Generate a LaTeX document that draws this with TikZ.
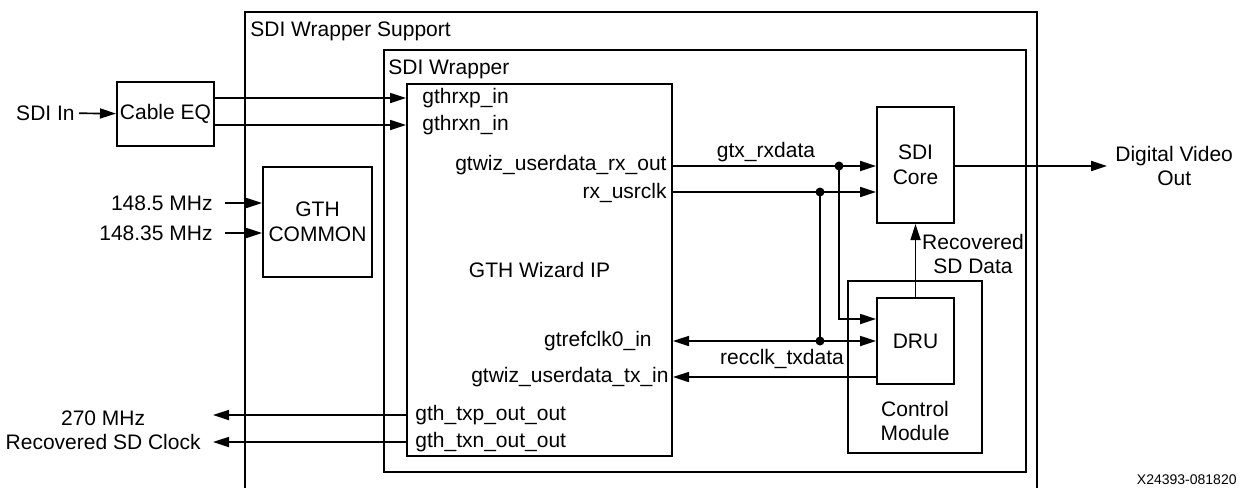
\documentclass[tikz,border=0pt]{standalone}
\usepackage{fontspec}
\setmainfont{Liberation Sans}
\usetikzlibrary{arrows.meta,positioning}

\begin{document}
\begin{tikzpicture}[
  x=0.5pt, y=-0.5pt,
  block/.style={draw, line width=1pt, inner sep=0pt, align=center,
    font=\fontsize{10.5}{12.5}\selectfont},
  port/.style={inner sep=2pt, align=center, font=\fontsize{10.5}{12}\selectfont},
  wire/.style={line width=0.85pt},
  dot/.style={circle, fill, inner sep=0pt, minimum size=4.5pt},
  >={Triangle[length=8pt,width=5pt]}
]
  \useasboundingbox (0,0) rectangle (1251,487);

  \node[block, minimum width=396pt, minimum height=244pt] (support) at (641,256) {};
  \node[port, anchor=west] (supportlbl) at (246,31) {SDI Wrapper Support};
  \node[block, minimum width=321pt, minimum height=211pt] (wrapper) at (705,261) {};
  \node[port, anchor=west] (wrapperlbl) at (384,69) {SDI Wrapper};
  \node[block, minimum width=132.5pt, minimum height=186pt] (wizard) at (539.5,270) {GTH Wizard IP};
  \node[block, minimum width=48.5pt, minimum height=32pt] (cableeq) at (165.5,114) {Cable EQ};
  \node[block, minimum width=54.5pt, minimum height=55pt] (gthcommon) at (317.5,222) {GTH\\COMMON};
  \node[block, minimum width=38.5pt, minimum height=58pt] (sdicore) at (915.5,165) {SDI\\Core};
  \node[block, minimum width=67pt, minimum height=86pt] (ctrl) at (915,367) {};
  \node[port] (ctrllbl) at (915,421) {Control\\Module};
  \node[block, minimum width=38.5pt, minimum height=43pt] (dru) at (915.5,341) {DRU};

  \node[port, anchor=west] (rxp) at (418,98) {gthrxp\_in};
  \node[port, anchor=west] (rxn) at (418,125) {gthrxn\_in};
  \node[port, anchor=east] (rxout) at (671,165) {gtwiz\_userdata\_rx\_out};
  \node[port, anchor=east] (usrclk) at (671,193) {rx\_usrclk};
  \node[port, anchor=east] (refclk) at (656,341) {gtrefclk0\_in};
  \node[port, anchor=east] (txin) at (673,377) {gtwiz\_userdata\_tx\_in};
  \node[port, anchor=west] (txp) at (411,415) {gth\_txp\_out\_out};
  \node[port, anchor=west] (txn) at (411,442) {gth\_txn\_out\_out};

  \node[port, anchor=east] (sdiin) at (79,113) {SDI In};
  \node[port, inner xsep=6pt, anchor=east] (f1) at (225,203) {148.5 MHz};
  \node[port, inner xsep=6pt, anchor=east] (f2) at (225,233) {148.35 MHz};
  \node[port, inner xsep=6pt, anchor=east] (clkout) at (213,430) {270 MHz\\Recovered SD Clock};
  \node[port, inner xsep=4pt, anchor=west] (dvo) at (1107,166) {Digital Video\\Out};
  \node[port] (recov) at (973,254) {Recovered\\SD Data};
  \node[port] (rxdatalbl) at (766,152) {gtx\_rxdata};
  \node[port] (txdatalbl) at (782,359) {recclk\_txdata};
  \node[anchor=east, inner sep=0pt, font=\fontsize{7}{8}\selectfont] (figid) at (1237,480) {X24393-081820};

  \node[dot] (j1) at (839,166) {};
  \node[dot] (j2) at (820,192) {};
  \node[dot] (j3) at (820,341) {};

  \draw[wire,->] (sdiin) -- (cableeq);
  \draw[wire,->] (cableeq.east |- rxp) -- (wizard.west |- rxp);
  \draw[wire,->] (cableeq.east |- rxn) -- (wizard.west |- rxn);
  \draw[wire,->] (f1) -- (gthcommon.west |- f1);
  \draw[wire,->] (f2) -- (gthcommon.west |- f2);
  \draw[wire,->] (wizard.east |- j1) -- (sdicore.west |- j1);
  \draw[wire,->] (wizard.east |- j2) -- (sdicore.west |- j2);
  \draw[wire,->] (j1.center) |- ([yshift=11pt]dru.west);
  \draw[wire] (j2.center) -- (j3.center);
  \draw[wire,<->] (wizard.east |- j3) -- (dru.west);
  \draw[wire,->] (dru.west |- txin) -- (wizard.east |- txin);
  \draw[wire,->] (dru) -- (sdicore);
  \draw[wire,->] (sdicore.east |- j1) -- (dvo.west);
  \draw[wire,->] (wizard.west |- txp) -- (clkout.east |- txp);
  \draw[wire,->] (wizard.west |- txn) -- (clkout.east |- txn);
\end{tikzpicture}
\end{document}
